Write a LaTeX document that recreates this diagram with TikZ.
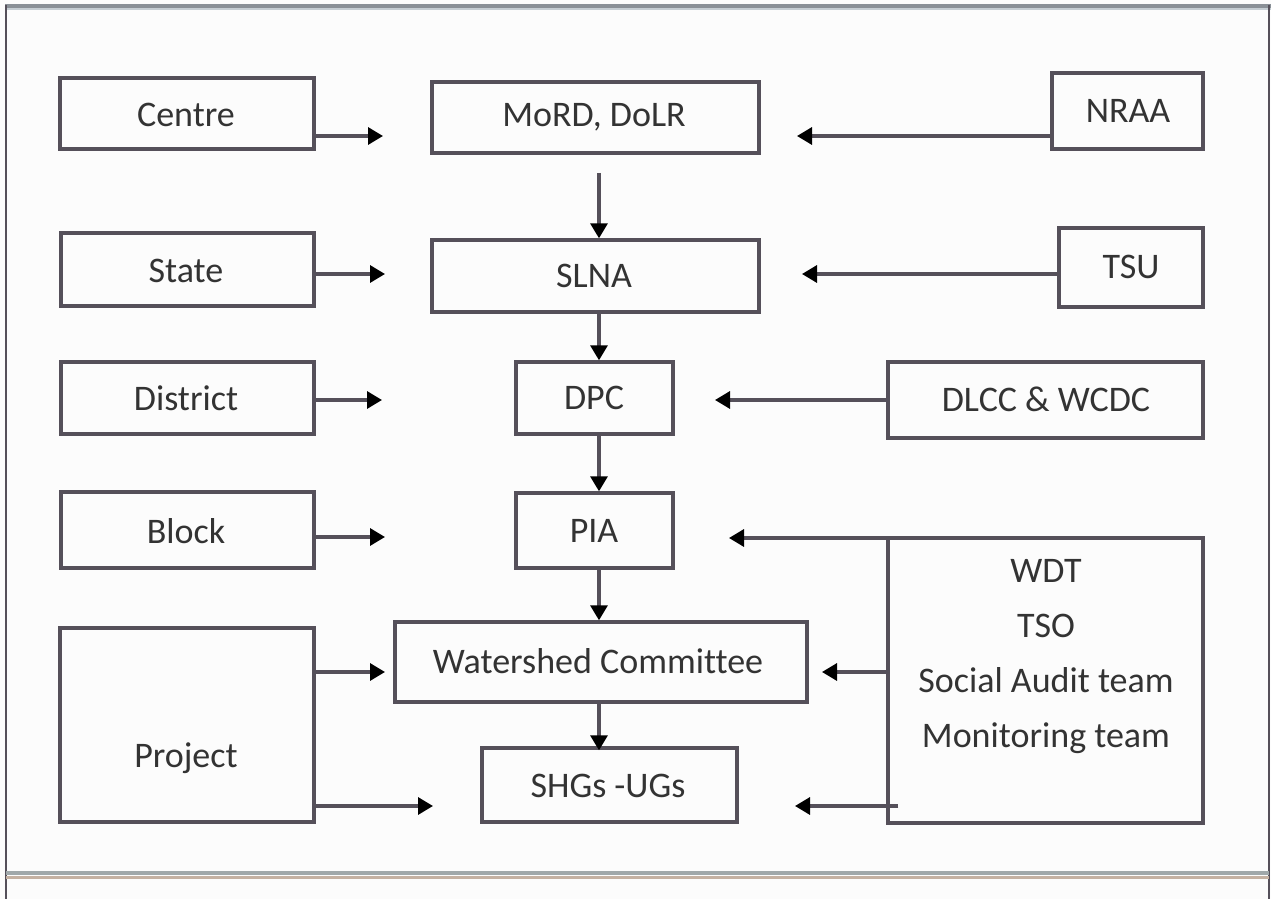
\documentclass[tikz,border=0pt]{standalone}
\usepackage{fontspec}
\setmainfont{Carlito}[Ligatures=NoCommon]
\usetikzlibrary{arrows.meta,fit}
\definecolor{bg}{HTML}{FCFCFC}
\definecolor{boxline}{HTML}{55505A}
\definecolor{txt}{HTML}{333333}
\definecolor{frameA}{HTML}{8A9097}
\definecolor{frameB}{HTML}{C5CDD3}
\definecolor{frameC}{HTML}{A0A8AA}
\definecolor{frameD}{HTML}{C4B1A2}
\begin{document}
\begin{tikzpicture}[x=0.5pt,y=-0.5pt,
  box/.style={draw=boxline, line width=1.7pt, inner sep=0pt},
  lbl/.style={font=\fontsize{18}{27.5}\selectfont, text=txt, inner sep=0pt, anchor=center},
  conn/.style={draw=boxline, line width=1.6pt, -{Triangle[length=7.5pt,width=8.5pt,color=black]}}]
\useasboundingbox (0,0) rectangle (1271,899);
\fill[bg] (0,0) rectangle (1271,899);
% outer frame
\draw[frameA, line width=2pt] (5,6) -- (1271,6);
\draw[frameB, line width=1pt] (5,9.5) -- (1271,9.5);
\draw[boxline, line width=1.2pt] (6,5) -- (6,899);
\draw[boxline, line width=1.2pt] (1269,5) -- (1269,899);
\draw[frameC, line width=2pt] (6,873) -- (1269,873);
\draw[frameD, line width=1.5pt] (6,877.5) -- (1269,877.5);
% boxes
\node[box, fit={(60,78) (314,149)}] (centre) {};
\node[box, fit={(432,82) (759,153)}] (mord) {};
\node[box, fit={(1052,73) (1203,149)}] (nraa) {};
\node[box, fit={(61,233) (314,306)}] (state) {};
\node[box, fit={(432,240) (759,312)}] (slna) {};
\node[box, fit={(1059,228) (1203,307)}] (tsu) {};
\node[box, fit={(61,362) (314,434)}] (district) {};
\node[box, fit={(516,362) (673,434)}] (dpc) {};
\node[box, fit={(888,362) (1203,438)}] (dlcc) {};
\node[box, fit={(61,492) (314,568)}] (block) {};
\node[box, fit={(516,493) (673,568)}] (pia) {};
\node[box, fit={(888,538) (1203,823)}] (wdt) {};
\node[box, fit={(395,622) (807,702)}] (wc) {};
\node[box, fit={(60,628) (314,822)}] (project) {};
\node[box, fit={(482,748) (737,822)}] (shgs) {};
% labels
\node[lbl] (centretxt) at (186,115) {Centre};
\node[lbl] (mordtxt) at (594,117) {MoRD, DoLR};
\node[lbl] (nraatxt) at (1128,111) {NRAA};
\node[lbl] (statetxt) at (186,271) {State};
\node[lbl] (slnatxt) at (594,276) {SLNA};
\node[lbl] (tsutxt) at (1131,267) {TSU};
\node[lbl] (districttxt) at (186,398) {District};
\node[lbl] (dpctxt) at (594,398) {DPC};
\node[lbl] (dlcctxt) at (1046,399) {DLCC \& WCDC};
\node[lbl] (blocktxt) at (186,531) {Block};
\node[lbl] (piatxt) at (594,531) {PIA};
\node[lbl] (wctxt) at (598,661) {Watershed Committee};
\node[lbl] (shgstxt) at (608,786) {SHGs -UGs};
\node[lbl, align=center] (wdttxt) at (1046,657) {WDT\\TSO\\Social Audit team\\Monitoring team};
\node[lbl] (projtxt) at (186,758) {Project};
% free ends of connectors
\coordinate (t1) at (383,136);
\coordinate (t2) at (385,274);
\coordinate (t3) at (382,400);
\coordinate (t4) at (385,537);
\coordinate (t5) at (385,672);
\coordinate (t6) at (433,806);
\coordinate (r1) at (797,136);
\coordinate (r2) at (802,274);
\coordinate (r3) at (715,400);
\coordinate (r4) at (729,538);
\coordinate (r5) at (822,672);
\coordinate (r6) at (795,806);
\coordinate (s0) at (599,173);
% left connectors
\draw[conn] (centre.east |- t1) -- (t1);
\draw[conn] (state.east |- t2) -- (t2);
\draw[conn] (district.east |- t3) -- (t3);
\draw[conn] (block.east |- t4) -- (t4);
\draw[conn] (project.east |- t5) -- (t5);
\draw[conn] (project.east |- t6) -- (t6);
% right connectors
\draw[conn] (nraa.west |- r1) -- (r1);
\draw[conn] (tsu.west |- r2) -- (r2);
\draw[conn] (dlcc.west |- r3) -- (r3);
\draw[conn] (wdt.west |- r4) -- (r4);
\draw[conn] (wdt.west |- r5) -- (r5);
\draw[conn] ([xshift=6pt]wdt.west |- r6) -- (r6);
% vertical connectors
\draw[conn] (s0) -- (slna.north -| s0);
\draw[conn] (slna.south -| s0) -- (dpc.north -| s0);
\draw[conn] (dpc.south -| s0) -- (pia.north -| s0);
\draw[conn] (pia.south -| s0) -- (wc.north -| s0);
\draw[conn] (wc.south -| s0) -- ([yshift=-2pt]shgs.north -| s0);
\end{tikzpicture}
\end{document}
